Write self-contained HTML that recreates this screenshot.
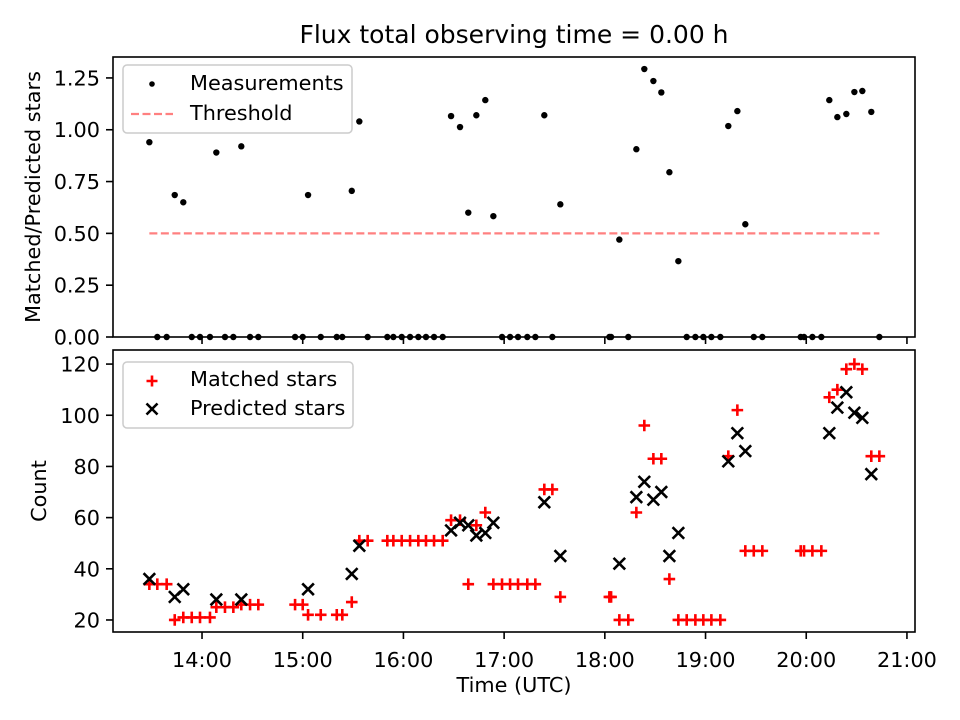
<!DOCTYPE html>
<html><head><meta charset="utf-8"><style>
body{margin:0;background:#fff}
svg{display:block;font-family:"DejaVu Sans","Liberation Sans",sans-serif}
</style></head><body>
<svg id="fig" width="960" height="720" viewBox="0 0 960 720"></svg>
<script>
const times=[13.477,13.556,13.649,13.729,13.814,13.898,13.980,14.079,14.142,14.228,14.311,14.390,14.477,14.559,14.924,15.000,15.053,15.179,15.338,15.393,15.487,15.562,15.645,15.840,15.900,15.983,16.066,16.148,16.224,16.304,16.390,16.473,16.562,16.644,16.724,16.813,16.893,16.979,17.059,17.138,17.230,17.310,17.399,17.479,17.558,18.045,18.062,18.144,18.233,18.313,18.392,18.482,18.561,18.641,18.730,18.813,18.899,18.978,19.058,19.147,19.226,19.316,19.395,19.479,19.564,19.945,19.978,20.061,20.150,20.229,20.309,20.398,20.478,20.557,20.646,20.726];
const matched=[34,34,34,20,21,21,21,21,25,25,25,26,26,26,26,26,22,22,22,22,27,51,51,51,51,51,51,51,51,51,51,59,59,34,57,62,34,34,34,34,34,34,71,71,29,29,29,20,20,62,96,83,83,36,20,20,20,20,20,20,84,102,47,47,47,47,47,47,47,107,110,118,120,118,84,84];
const predicted=[36,null,null,29,32,null,null,null,28,null,null,28,null,null,null,null,32,null,null,null,38,49,null,null,null,null,null,null,null,null,null,55,58,57,53,54,58,null,null,null,null,null,66,null,45,null,null,42,null,68,74,67,70,45,54,null,null,null,null,null,82,93,86,null,null,null,null,null,null,93,103,109,101,99,77,null];
const ratio=[0.94,0,0,0.685,0.65,0,0,0,0.89,0,0,0.92,0,0,0,0,0.685,0,0,0,0.705,1.04,0,0,0,0,0,0,0,0,0,1.066,1.013,0.60,1.07,1.143,0.583,0,0,0,0,0,1.07,0,0.64,0,0,0.47,0,0.906,1.293,1.235,1.18,0.795,0.366,0,0,0,0,0,1.018,1.09,0.544,0,0,0,0,0,0,1.143,1.061,1.076,1.182,1.187,1.086,0];
const threshold=0.5;
const xTicks=[14,15,16,17,18,19,20,21];
const xTickLabels=["14:00","15:00","16:00","17:00","18:00","19:00","20:00","21:00"];
const topTicks=[0,0.25,0.5,0.75,1.0,1.25];
const topTickLabels=["0.00","0.25","0.50","0.75","1.00","1.25"];
const botTicks=[20,40,60,80,100,120];
const botTickLabels=["20","40","60","80","100","120"];

const L=113,R=915,T1=57,B1=337,T2=350,B2=632;
const X0=13.116,X1=21.080;
const FS=20.8;
const x=t=>L+(t-X0)/(X1-X0)*(R-L);
const y1=v=>B1-(v-0)/(1.351-0)*(B1-T1);
const y2=v=>B2-(v-15.3)/(125.5-15.3)*(B2-T2);
const svg=document.getElementById('fig');
const NS='http://www.w3.org/2000/svg';
function mk(tag,attrs,parent){const e=document.createElementNS(NS,tag);for(const k in attrs)e.setAttribute(k,attrs[k]);(parent||svg).appendChild(e);return e;}
function txt(s,attrs,parent){const e=mk('text',attrs,parent);e.textContent=s;return e;}

let e=txt('Flux total observing time = 0.00 h',{x:514,y:43,'font-size':25,'text-anchor':'middle',fill:'#000'});



const gTop=mk('g',{});


const thr=mk('line',{x1:x(times[0]),x2:x(times[times.length-1]),y1:y1(threshold),y2:y1(threshold),stroke:'#ff8080','stroke-width':2.2,'stroke-dasharray':'8,3.5'},gTop);


times.forEach((t,i)=>{
  const c=mk('circle',{cx:x(t),cy:y1(ratio[i]),r:3.2,fill:'#000'},gTop);
  
  
});
const gBot=mk('g',{});


const s=5.8;
times.forEach((t,i)=>{
  const cx=x(t),cy=y2(matched[i]);
  const p=mk('path',{d:`M${cx-s} ${cy}H${cx+s}M${cx} ${cy-s}V${cy+s}`,stroke:'#ff0000','stroke-width':2.6,fill:'none'},gBot);
  
  
});
times.forEach((t,i)=>{
  if(predicted[i]==null)return;
  const cx=x(t),cy=y2(predicted[i]);
  const p=mk('path',{d:`M${cx-s} ${cy-s}L${cx+s} ${cy+s}M${cx-s} ${cy+s}L${cx+s} ${cy-s}`,stroke:'#000','stroke-width':2.6,fill:'none'},gBot);
  
  
});

[[T1,B1,'ratio-axes-frame'],[T2,B2,'count-axes-frame']].forEach(([t,b,n])=>{
  const r=mk('rect',{x:L,y:t,width:R-L,height:b-t,fill:'none',stroke:'#000','stroke-width':1.6});
  
  
});
xTicks.forEach((v,i)=>{
  const xx=x(v);
  mk('line',{x1:xx,x2:xx,y1:B1,y2:B1+7,stroke:'#000','stroke-width':1.6});
  mk('line',{x1:xx,x2:xx,y1:B2,y2:B2+7,stroke:'#000','stroke-width':1.6});
  const l=txt(xTickLabels[i],{x:xx,y:B2+35,'font-size':FS,'text-anchor':'middle'});
  
  
});
topTicks.forEach((v,i)=>{
  const yy=y1(v);
  mk('line',{x1:L-7,x2:L,y1:yy,y2:yy,stroke:'#000','stroke-width':1.6});
  const l=txt(topTickLabels[i],{x:L-13,y:yy+7.5,'font-size':FS,'text-anchor':'end'});
  
  
});
botTicks.forEach((v,i)=>{
  const yy=y2(v);
  mk('line',{x1:L-7,x2:L,y1:yy,y2:yy,stroke:'#000','stroke-width':1.6});
  const l=txt(botTickLabels[i],{x:L-13,y:yy+7.5,'font-size':FS,'text-anchor':'end'});
  
  
});
e=txt('Time (UTC)',{x:514,y:692,'font-size':FS,'text-anchor':'middle'});


e=txt('Matched/Predicted stars',{x:0,y:0,'font-size':FS,'text-anchor':'middle',transform:'translate(40,197) rotate(-90)'});


e=txt('Count',{x:0,y:0,'font-size':FS,'text-anchor':'middle',transform:'translate(46,491) rotate(-90)'});



const lg1=mk('g',{});


mk('rect',{x:123,y:65,width:229,height:68,rx:4,fill:'#fff','fill-opacity':0.8,stroke:'#ccc','stroke-width':1.5},lg1);
mk('circle',{cx:152,cy:84,r:2.8,fill:'#000'},lg1);
e=txt('Measurements',{x:190,y:90,'font-size':FS},lg1);


mk('line',{x1:131,x2:173,y1:114,y2:114,stroke:'#ff8080','stroke-width':2.2,'stroke-dasharray':'8,3.5'},lg1);
e=txt('Threshold',{x:190,y:120,'font-size':FS},lg1);



const lg2=mk('g',{});


mk('rect',{x:123,y:362,width:230,height:66,rx:4,fill:'#fff','fill-opacity':0.8,stroke:'#ccc','stroke-width':1.5},lg2);
mk('path',{d:'M146.5 381H157.5M152 375.5V386.5',stroke:'#f00','stroke-width':2.6},lg2);
e=txt('Matched stars',{x:190,y:386,'font-size':FS},lg2);


mk('path',{d:'M146.5 403.5L157.5 414.5M146.5 414.5L157.5 403.5',stroke:'#000','stroke-width':2.6},lg2);
e=txt('Predicted stars',{x:190,y:415,'font-size':FS},lg2);


</script>
</body></html>
